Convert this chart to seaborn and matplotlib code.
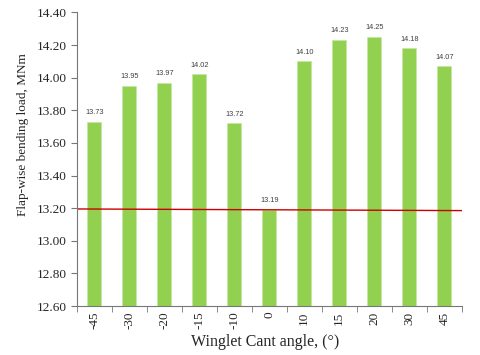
import pandas as pd
import numpy as np
import matplotlib
matplotlib.use("Agg")
import matplotlib.pyplot as plt
import seaborn as sns

angles = ["-45", "-30", "-20", "-15", "-10", "0", "10", "15", "20", "30", "45"]
loads = [13.73, 13.95, 13.97, 14.02, 13.72, 13.19, 14.10, 14.23, 14.25, 14.18, 14.07]
# red reference line, read at left and right edge of the axes
ref_line = [13.195, 13.185]

df = pd.DataFrame({"angle": angles, "load": loads})

sns.set_style("white")
plt.rcParams["font.family"] = ["Liberation Serif", "DejaVu Serif"]

fig, ax = plt.subplots(figsize=(4.8, 3.55), dpi=100)
fig.subplots_adjust(left=0.16, right=0.962, top=0.965, bottom=0.138)

sns.barplot(data=df, x="angle", y="load", color="#92D050", width=0.4,
            saturation=1, edgecolor="#c6e6a3", linewidth=0.6, ax=ax)

for i, v in enumerate(loads):
    ax.text(i, v + 0.035, f"{v:.2f}", ha="center", va="bottom",
            fontsize=5.3, family=["Liberation Sans", "DejaVu Sans"], color="#404040")

ax.plot([-0.5, len(angles) - 0.5], ref_line, color="#cc0000", lw=1)

ax.set_ylim(12.6, 14.4)
ax.set_xlim(-0.5, len(angles) - 0.5)
ax.set_yticks(np.arange(12.6, 14.41, 0.2))
ax.set_yticklabels([f"{t:.2f}" for t in np.arange(12.6, 14.41, 0.2)])
ax.set_xticks(range(len(angles)))
ax.set_xticklabels(angles, rotation=90)
ax.set_xticks(np.arange(-0.5, len(angles), 1), minor=True)

ax.tick_params(axis="x", which="major", length=0, labelsize=9.5, pad=4)
ax.tick_params(axis="x", which="minor", length=4, color="#777777", direction="out", bottom=True)
ax.tick_params(axis="y", length=4, color="#777777", direction="out", left=True, labelsize=9.5)

for s in ["top", "right"]:
    ax.spines[s].set_visible(False)
for s in ["left", "bottom"]:
    ax.spines[s].set_color("#777777")
    ax.spines[s].set_linewidth(0.8)

ax.set_xlabel("Winglet Cant angle, (\u00b0)", fontsize=11.5)
ax.set_ylabel("Flap-wise bending load, MNm", fontsize=9.5)
ax.xaxis.set_label_coords(0.49, -0.097)
ax.yaxis.set_label_coords(-0.124, 0.585)

fig.savefig("out.png", dpi=100)
